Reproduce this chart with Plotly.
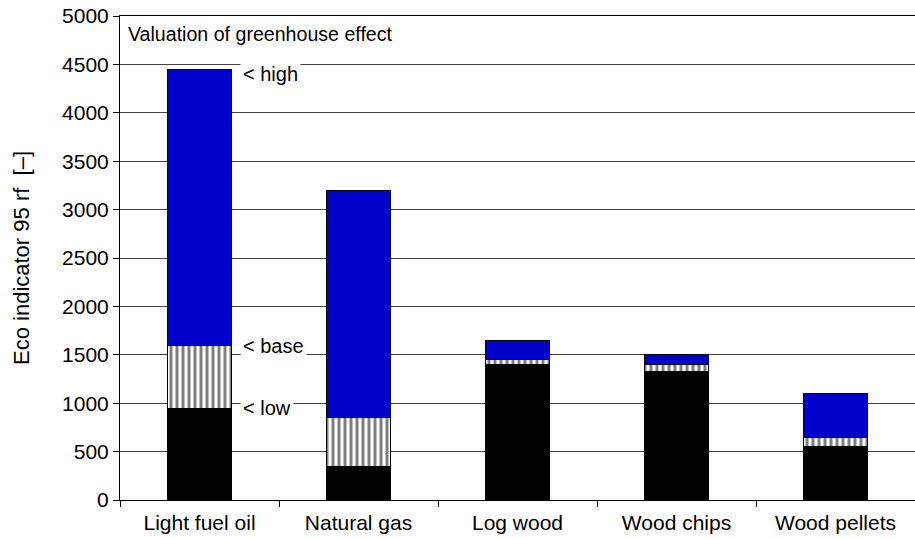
import plotly.graph_objects as go

fuels = ['Light fuel oil', 'Natural gas', 'Log wood', 'Wood chips', 'Wood pellets']
low = [950, 350, 1400, 1330, 550]
base = [1600, 850, 1450, 1400, 650]
high = [4450, 3200, 1650, 1500, 1100]

y_ticks = list(range(0, 5001, 500))

# stacked segments: low, base increment, high increment
base_part = [b - l for b, l in zip(base, low)]
high_part = [h - b for h, b in zip(high, base)]

fig = go.Figure()

fig.add_trace(go.Bar(
    x=fuels, y=low, name='low',
    marker=dict(color='black', line=dict(color='black', width=1)),
    width=0.4
))
fig.add_trace(go.Bar(
    x=fuels, y=base_part, name='base',
    marker=dict(color='white', line=dict(color='black', width=1),
                pattern=dict(shape='|', fgcolor='black', bgcolor='white',
                             size=6, solidity=0.5)),
    width=0.4
))
fig.add_trace(go.Bar(
    x=fuels, y=high_part, name='high',
    marker=dict(color='#0000CC', line=dict(color='black', width=1)),
    width=0.4
))

font = 'Liberation Sans, Arial, Helvetica, sans-serif'

# markers for the first bar
for label, val, shift in [('< high', high[0], -5), ('< base', base[0], -1), ('< low', low[0], 0)]:
    fig.add_annotation(
        x=fuels[0], y=val, xref='x', yref='y',
        text=label, showarrow=False,
        xanchor='left', yanchor='middle', xshift=40, yshift=shift,
        bgcolor='white', borderpad=2,
        font=dict(size=20, color='black', family=font)
    )

fig.add_annotation(
    x=0, y=0.963, xref='paper', yref='paper',
    text='Valuation of greenhouse effect', showarrow=False,
    xanchor='left', yanchor='middle', xshift=6,
    font=dict(size=19.6, color='black', family=font)
)

fig.update_layout(
    width=915, height=539,
    barmode='stack',
    showlegend=False,
    template='plotly_white',
    paper_bgcolor='white', plot_bgcolor='white',
    margin=dict(l=120, r=0, t=16, b=39, autoexpand=False),
    font=dict(family=font, size=21, color='black'),
    xaxis=dict(
        range=[-0.5, 4.5],
        showline=True, linecolor='black', linewidth=1, mirror=True,
        ticks='outside', tickson='boundaries', ticklen=6, tickcolor='black',
        showgrid=False, zeroline=False, automargin=False,
        ticklabelstandoff=4,
        tickfont=dict(size=21)
    ),
    yaxis=dict(
        range=[0, 5000], tickvals=y_ticks,
        showline=True, linecolor='black', linewidth=1,
        ticks='outside', ticklen=6, tickcolor='black',
        showgrid=True, gridcolor='#444444', gridwidth=1,
        zeroline=False, automargin=False,
        ticklabeloverflow='allow',
        tickfont=dict(size=21),
        title=dict(text='Eco indicator 95 rf  [–]', standoff=26,
                   font=dict(size=22))
    )
)

# drop the default 8px page margin so the figure fills the window
fig.write_html("out.html", config={'displayModeBar': False},
               post_script="document.body.style.margin='0';")
